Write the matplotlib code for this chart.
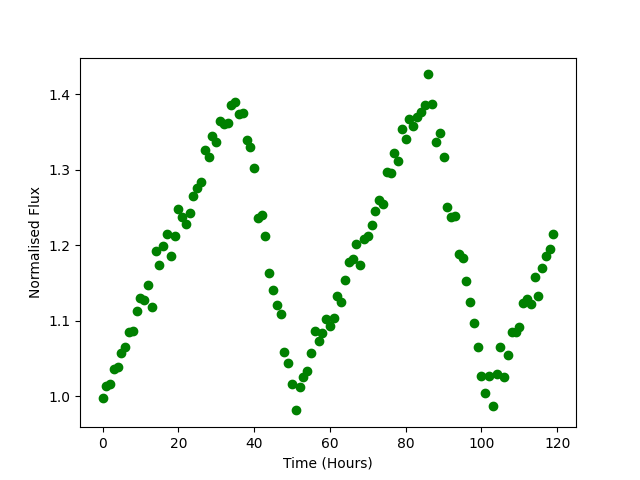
import numpy as np
import matplotlib
matplotlib.use("Agg")
import matplotlib.pyplot as plt

time_hours = np.arange(120)
flux = [
    0.998, 1.013, 1.016, 1.036, 1.038, 1.057, 1.065, 1.085, 1.086, 1.112,
    1.130, 1.127, 1.147, 1.118, 1.192, 1.174, 1.199, 1.215, 1.185, 1.212,
    1.248, 1.237, 1.228, 1.242, 1.265, 1.275, 1.284, 1.326, 1.317, 1.345,
    1.337, 1.364, 1.360, 1.361, 1.385, 1.389, 1.374, 1.375, 1.339, 1.330,
    1.302, 1.236, 1.240, 1.212, 1.163, 1.141, 1.121, 1.109, 1.058, 1.044,
    1.016, 0.981, 1.012, 1.025, 1.033, 1.057, 1.086, 1.073, 1.084, 1.102,
    1.093, 1.104, 1.132, 1.125, 1.154, 1.178, 1.182, 1.202, 1.173, 1.208,
    1.212, 1.226, 1.245, 1.259, 1.255, 1.297, 1.295, 1.322, 1.311, 1.354,
    1.341, 1.367, 1.357, 1.370, 1.376, 1.386, 1.426, 1.387, 1.336, 1.348,
    1.316, 1.250, 1.237, 1.238, 1.188, 1.183, 1.152, 1.125, 1.097, 1.065,
    1.026, 1.004, 1.026, 0.987, 1.029, 1.065, 1.025, 1.055, 1.085, 1.085,
    1.092, 1.123, 1.128, 1.122, 1.158, 1.132, 1.169, 1.185, 1.195, 1.215,
]

fig, ax = plt.subplots(figsize=(6.4, 4.8), dpi=100)
ax.plot(time_hours, flux, 'go')
ax.set_xlabel('Time (Hours)')
ax.set_ylabel('Normalised Flux')
fig.savefig('out.png', dpi=100)
